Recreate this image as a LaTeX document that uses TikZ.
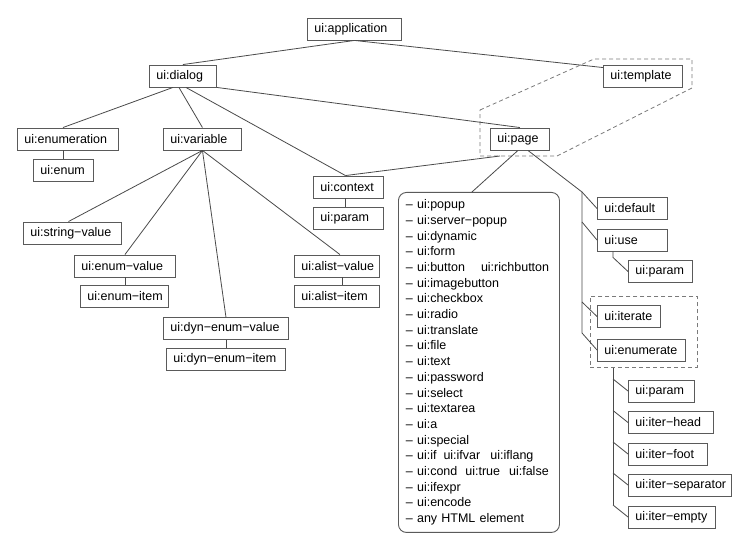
\documentclass[tikz,border=0pt]{standalone}
\usepackage{fontspec}
\setmainfont{Liberation Sans}
\usetikzlibrary{positioning}
\definecolor{edgegray}{HTML}{4A4A4A}
\definecolor{boxgray}{HTML}{5A5A5A}
\definecolor{grpgray}{HTML}{7A7A7A}
\tikzset{
  box/.style={draw=boxgray, line width=0.9pt, rectangle, anchor=west, text width=#1,
    align=left, minimum height=22pt, inner xsep=7pt, inner ysep=0pt},
  listbox/.style={draw=boxgray, line width=0.9pt, rectangle, rounded corners=8pt, anchor=north west,
    text width=146pt, align=left, minimum height=340pt, inner xsep=7.5pt, inner ysep=0pt},
  edge/.style={draw=edgegray, line width=0.8pt},
  grp/.style={draw=grpgray, line width=0.8pt, dash pattern=on 4pt off 3pt},
}
\begin{document}
\begin{tikzpicture}[x=1pt, y=-1pt, font=\fontsize{12.5}{15.7}\selectfont]
	\fill[white] (0,0) rectangle (756,545);
	\useasboundingbox (0,0) rectangle (756,545);
	\node[box=80pt] (application)at(307, 29) {ui:application};
	\node[box=53pt] (dialog)at(149, 76) {ui:dialog};
	\node[box=65pt] (template)at(603, 76) {ui:template};
	\node[box=45pt] (page)at(490, 139) {ui:page};
	\node[box=87pt] (enumeration)at(17, 139) {ui:enumeration};
	\node[box=46pt] (enum)at(33, 170) {ui:enum};
	\node[box=64pt] (variable)at(163, 139) {ui:variable};
	\node[box=56pt] (context)at(313, 187) {ui:context};
	\node[box=56pt] (ctxparam)at(313, 218) {ui:param};
	\node[box=84pt] (stringvalue)at(23, 233) {ui:string−value};
	\node[box=87pt] (enumvalue)at(74, 266) {ui:enum−value};
	\node[box=74pt] (enumitem)at(80, 296.5) {ui:enum−item};
	\node[box=111pt] (dynvalue)at(163, 328.5) {ui:dyn−enum−value};
	\node[box=105pt] (dynitem)at(166, 359) {ui:dyn−enum−item};
	\node[box=71pt] (alistvalue)at(294, 266) {ui:alist−value};
	\node[box=71pt] (alistitem)at(294, 296.5) {ui:alist−item};
	\node[box=56pt] (default)at(597, 208.5) {ui:default};
	\node[box=56pt] (use)at(597, 240) {ui:use};
	\node[box=50pt] (useparam)at(628, 271.5) {ui:param};
	\node[box=49pt] (iterate)at(597, 316.5) {ui:iterate};
	\node[box=74pt] (enumerate)at(597, 350) {ui:enumerate};
	\node[box=52pt] (iterparam)at(628, 391) {ui:param};
	\node[box=71pt] (iterhead)at(628, 422.5) {ui:iter−head};
	\node[box=65pt] (iterfoot)at(628, 454) {ui:iter−foot};
	\node[box=89pt] (itersep)at(628, 485) {ui:iter−separator};
	\node[box=73pt] (iterempty)at(628, 517) {ui:iter−empty};
	\node[listbox] (list)at(398, 192) {– ui:popup\\
		– ui:server−popup\\
		– ui:dynamic\\
		– ui:form\\
		– ui:button\hspace{16pt}ui:richbutton\\
		– ui:imagebutton\\
		– ui:checkbox\\
		– ui:radio\\
		– ui:translate\\
		– ui:file\\
		– ui:text\\
		– ui:password\\
		– ui:select\\
		– ui:textarea\\
		– ui:a\\
		– ui:special\\
		– ui:if\hspace{7pt}ui:ifvar\hspace{10pt}ui:iflang\\
		– ui:cond\hspace{8pt}ui:true\hspace{9pt}ui:false\\
		– ui:ifexpr\\
		– ui:encode\\
		– any HTML element};
	\node[grp, rectangle, minimum width=107pt, minimum height=71pt, anchor=north west] (itergroup)at(590, 296) {};
	\draw[grp] (480, 110) -- (594, 59) -- (692, 59) -- (692, 88) -- (557, 156) -- (480, 156) -- cycle;
	\coordinate (tplgroup)at(500, 156);
	\coordinate (trunk)at(582, 192);
	\coordinate (trunkend)at(582, 333);
	\coordinate (iterroot)at([xshift=23pt]itergroup.south west);
	\coordinate (iterend)at(613, 505);
	\draw[edge] (application.south) -- (dialog.north);
	\draw[edge] (application.south) -- ([yshift=-3pt]template.north west);
	\draw[edge] ([xshift=-10pt]dialog.south) -- ([xshift=-5pt]enumeration.north);
	\draw[edge] ([xshift=-4pt]dialog.south) -- (variable.north);
	\draw[edge] ([xshift=3pt]dialog.south) -- ([xshift=-3pt]context.north);
	\draw[edge] (dialog.south east) -- (page.north);
	\draw[edge] (enum.north) -- (enum.north |- enumeration.south);
	\draw[edge] (variable.south) -- ([xshift=-4pt]stringvalue.north);
	\draw[edge] (variable.south) -- (enumvalue.north);
	\draw[edge] (variable.south) -- (dynvalue.north);
	\draw[edge] (variable.south) -- ([xshift=3pt]alistvalue.north);
	\draw[edge] (enumvalue.south) -- (enumvalue.south |- enumitem.north);
	\draw[edge] ([xshift=-3pt]context.south) -- ([xshift=-3pt]ctxparam.north);
	\draw[edge] (dynvalue.south) -- (dynvalue.south |- dynitem.north);
	\draw[edge] ([xshift=5pt]alistvalue.south) -- ([xshift=5pt]alistitem.north);
	\draw[edge] (tplgroup) -- ([xshift=-3pt]context.north);
	\draw[edge] ([xshift=-2pt]page.south) -- ([xshift=-7pt]list.north);
	\draw[edge] ([xshift=8pt]page.south) -- (trunk) -- (default.west);
	\draw[edge] (trunk) -- (trunkend) -- (enumerate.west);
	\draw[edge] ([yshift=-30pt]trunk) -- (use.west);
	\draw[edge] ([yshift=-110pt]trunk) -- (iterate.west);
	\draw[edge] ([xshift=16pt]use.south west) -- ++(0, 6) -- (useparam.west);
	\draw[edge] (iterroot) -- (iterend);
	\foreach \n in {iterparam, iterhead, iterfoot, itersep, iterempty}
		\draw[edge] (iterroot |- \n.west) ++(0, -12) -- (\n.west);
\end{tikzpicture}
\end{document}
